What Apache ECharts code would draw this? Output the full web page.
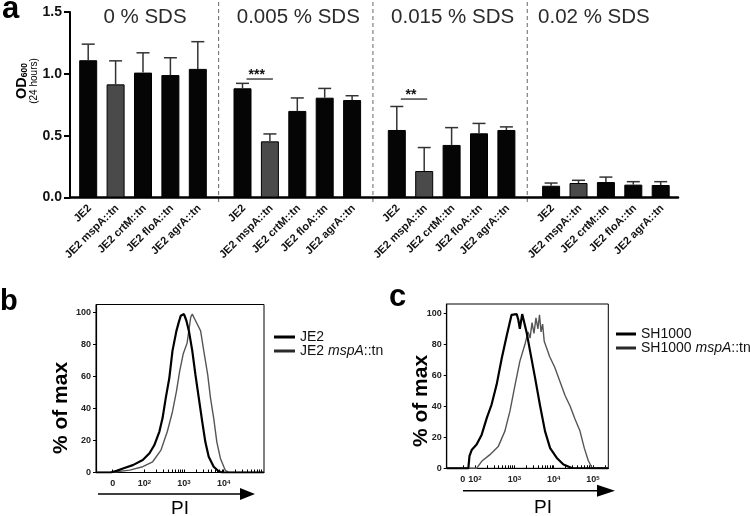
<!DOCTYPE html>
<html><head><meta charset="utf-8">
<script src="https://cdn.jsdelivr.net/npm/echarts@6/dist/echarts.min.js"></script>
<style>html,body{margin:0;padding:0;background:#fff}#c{width:750px;height:516px}</style>
</head><body><div id="c"></div>
<script>
// ---------- data: panel a ----------
const strains = ['JE2', 'JE2 mspA::tn', 'JE2 crtM::tn', 'JE2 floA::tn', 'JE2 agrA::tn'];
const conditions = ['0 % SDS', '0.005 % SDS', '0.015 % SDS', '0.02 % SDS'];
const od_0     = [1.11, 0.915, 1.01, 0.99, 1.04];
const sd_0     = [0.13, 0.19, 0.16, 0.14, 0.22];
const od_0005  = [0.883, 0.454, 0.70, 0.807, 0.788];
const sd_0005  = [0.04, 0.06, 0.105, 0.075, 0.035];
const od_0015  = [0.546, 0.214, 0.425, 0.519, 0.546];
const sd_0015  = [0.19, 0.19, 0.14, 0.08, 0.025];
const od_002   = [0.095, 0.117, 0.125, 0.104, 0.101];
const sd_002   = [0.022, 0.022, 0.04, 0.024, 0.027];
const odTicks  = [0, 0.5, 1.0, 1.5];
const sigGroups = [1, 2];
const sigLevels = [0.958, 0.796];
const sigLabels = ['***', '**'];

// ---------- data: panels b, c (x in log10 PI display units, y in % of max) ----------
const bJE2 = [[0.78,0],[1.15,0],[1.3,1],[1.46,2.5],[1.71,4.6],[1.96,7.8],[2.13,12],[2.25,17],[2.38,25.6],[2.46,34],[2.54,46.5],[2.63,59],[2.71,76],[2.81,88.5],[2.87,94],[2.92,98],[3.0,99],[3.06,95],[3.125,88.5],[3.21,76],[3.29,61],[3.375,46.5],[3.46,32],[3.54,19],[3.625,9.9],[3.75,3.6],[3.875,0.8],[3.96,0],[5.02,0]];
const bMsp = [[0.78,0],[1.15,0],[1.63,1.5],[1.96,3.6],[2.21,6.7],[2.42,14],[2.58,25.6],[2.71,38],[2.81,50.7],[2.89,63],[2.98,74],[3.08,81],[3.17,97],[3.21,99],[3.29,95],[3.42,88.5],[3.5,76],[3.6,61],[3.67,46.5],[3.75,34],[3.83,19],[3.92,8.8],[4.04,1.5],[4.13,0],[5.02,0]];
const cSH = [[1.28,0],[1.83,0],[1.86,8],[1.92,12],[2.04,15.3],[2.17,21.7],[2.3,32.5],[2.42,41],[2.55,54],[2.68,71],[2.81,86],[2.93,99],[3.06,99.5],[3.1,96],[3.14,90],[3.2,99.5],[3.23,99],[3.31,88],[3.42,73],[3.53,58],[3.65,41],[3.78,24],[3.91,13],[4.08,6.7],[4.25,2.4],[4.46,0.2],[5.39,0]];
const cMsp = [[1.28,0],[2.04,0],[2.17,4.5],[2.38,8.8],[2.59,14],[2.76,24],[2.89,37],[3.02,54],[3.14,69],[3.27,80],[3.35,88],[3.4,84],[3.45,94],[3.5,87],[3.55,97],[3.6,90],[3.64,99],[3.68,88],[3.72,93],[3.76,82],[3.9,72],[4.03,65],[4.16,56],[4.29,47],[4.42,40],[4.54,32],[4.67,24],[4.78,13],[4.88,5],[4.97,0.5],[5.0,0],[5.39,0]];
const bTickVals = [1.2, 2, 3, 4];
const bTickExp  = [null, 2, 3, 4];
const cTickVals = [1.69, 2, 3, 4, 5];
const cTickExp  = [null, 2, 3, 4, 5];
const pctTicks  = [0, 20, 40, 60, 80, 100];
const bNames = ['JE2', 'JE2 mspA::tn'];
const cNames = ['SH1000', 'SH1000 mspA::tn'];

// ---------- layout ----------
const FF = '"Liberation Sans", Arial, Helvetica, sans-serif';
const A = { left: 70, right: 678, top: 12, bottom: 197.5, slot: 27.4, firstCenter: 88.2, stride: 154.3, bar: 18 };
const titleShift = [2, 1, 1, -12];
const B = { left: 96, right: 264, top: 304.5, bottom: 472.5, xmin: 0.78, xmax: 5.02, ymax: 105 };
const C = { left: 446.7, right: 608.3, top: 304, bottom: 468.3, xmin: 1.28, xmax: 5.39, ymax: 106 };

const odGroups = [od_0, od_0005, od_0015, od_002];
const sdGroups = [sd_0, sd_0005, sd_0015, sd_002];

function renderErr(params, api) {
  const x = api.value(0), v = api.value(1), e = api.value(2);
  const p0 = api.coord([x, v]), p1 = api.coord([x, v + e]);
  const cap = 6.5, st = { stroke: '#333', lineWidth: 1.5 };
  return { type: 'group', children: [
    { type: 'line', shape: { x1: p0[0], y1: p0[1], x2: p1[0], y2: p1[1] }, style: st },
    { type: 'line', shape: { x1: p1[0] - cap, y1: p1[1], x2: p1[0] + cap, y2: p1[1] }, style: st }
  ]};
}
function renderXLabel(params, api) {
  const i = api.value(0);
  const p = api.coord([i, 0]);
  return { type: 'text', x: p[0] + 1.5, y: p[1] + 9, rotation: Math.PI / 4,
    style: { text: strains[i], fontSize: 11, fontWeight: 'bold', fontFamily: FF, fill: '#111', align: 'right', verticalAlign: 'middle' } };
}
function makeSig(k) {
  return function (params, api) {
    const y = api.value(2);
    const p0 = api.coord([api.value(0), y]), p1 = api.coord([api.value(1), y]);
    const x1 = p0[0] + 4, x2 = p1[0] + 3;
    return { type: 'group', children: [
      { type: 'line', shape: { x1: x1, y1: p0[1], x2: x2, y2: p0[1] }, style: { stroke: '#444', lineWidth: 1.5 } },
      { type: 'text', x: (x1 + x2) / 2 - 3, y: p0[1] - 4, style: { text: sigLabels[k], fontSize: 14, fontWeight: 'bold', fontFamily: FF, fill: '#111', align: 'center', verticalAlign: 'middle' } }
    ]};
  };
}

const grids = [], xAxes = [], yAxes = [], series = [];
grids.push({ left: A.left, top: A.top, width: A.right - A.left, height: A.bottom - A.top });
xAxes.push({ gridIndex: 0, type: 'value', min: 0, max: 1, axisLine: { show: true, lineStyle: { color: '#000', width: 2.5 } }, axisTick: { show: false }, axisLabel: { show: false }, splitLine: { show: false } });
yAxes.push({ gridIndex: 0, type: 'value', min: 0, max: 1.5, interval: 0.5,
  axisLine: { show: true, lineStyle: { color: '#000', width: 2 } },
  axisTick: { show: true, length: 6, lineStyle: { color: '#000', width: 2 } },
  axisLabel: { margin: 8, color: '#111', fontSize: 14, fontWeight: 'bold', fontFamily: FF, formatter: v => odTicks.includes(v) ? v.toFixed(1) : '' },
  splitLine: { show: false } });

odGroups.forEach((od, g) => {
  const gi = g + 1;
  const left = A.firstCenter - A.slot / 2 + g * A.stride;
  grids.push({ left: left, top: A.top, width: 5 * A.slot, height: A.bottom - A.top });
  xAxes.push({ gridIndex: gi, type: 'category', data: strains, axisLine: { show: false }, axisTick: { show: false }, axisLabel: { show: false } });
  yAxes.push({ gridIndex: gi, type: 'value', min: 0, max: 1.5, show: false });
  series.push({ type: 'bar', name: conditions[g], xAxisIndex: gi, yAxisIndex: gi, barWidth: A.bar, silent: true,
    data: od.map((v, i) => ({ value: v, itemStyle: { color: i === 1 ? '#4a4a4a' : '#050505' } })),
    itemStyle: { borderColor: '#000', borderWidth: 1 } });
  series.push({ type: 'custom', xAxisIndex: gi, yAxisIndex: gi, renderItem: renderErr, silent: true, z: 3,
    encode: { x: 0, y: 1 }, data: od.map((v, i) => [i, v, sdGroups[g][i]]) });
  series.push({ type: 'custom', xAxisIndex: gi, yAxisIndex: gi, renderItem: renderXLabel, silent: true, z: 3, clip: false,
    encode: { x: 0, y: 1 }, data: strains.map((s, i) => [i, 0]) });
});
sigGroups.forEach((g, k) => {
  series.push({ type: 'custom', xAxisIndex: g + 1, yAxisIndex: g + 1, renderItem: makeSig(k), silent: true, z: 4,
    encode: { x: 0, y: 2 }, data: [[0, 1, sigLevels[k]]] });
});

function logTicks(first, dmin, dmax, xmax) {
  const t = [first];
  for (let d = dmin; d <= dmax; d++) for (let k = 1; k <= 9; k++) { const v = d + Math.log10(k); if (v <= xmax) t.push(v); }
  return t;
}
const tickRich = {
  n: { fontSize: 9, fontWeight: 'bold', fontFamily: FF, color: '#222' },
  s: { fontSize: 6, fontWeight: 'bold', fontFamily: FF, color: '#222', verticalAlign: 'top' }
};
function flowAxes(gi, P, tickVals, tickExp, minor) {
  grids.push({ left: P.left, top: P.top, width: P.right - P.left, height: P.bottom - P.top, show: true, borderColor: '#000', borderWidth: 1 });
  xAxes.push({ gridIndex: gi, type: 'value', min: P.xmin, max: P.xmax,
    axisLine: { show: true, lineStyle: { color: '#000', width: 1.2 } }, splitLine: { show: false },
    axisTick: { show: true, inside: true, length: 3, customValues: minor, lineStyle: { color: '#000', width: 1 } },
    axisLabel: { customValues: tickVals, margin: 7, rich: tickRich,
      formatter: v => { let idx = 0, best = 1e9; tickVals.forEach((t, j) => { if (Math.abs(t - v) < best) { best = Math.abs(t - v); idx = j; } });
        const e = tickExp[idx]; return e === null ? '{n|0}' : '{n|10}{s|' + e + '}'; } } });
  yAxes.push({ gridIndex: gi, type: 'value', min: 0, max: P.ymax,
    axisLine: { show: true, lineStyle: { color: '#000', width: 1.2 } }, splitLine: { show: false },
    axisTick: { show: true, length: 3, customValues: pctTicks, lineStyle: { color: '#000' } },
    axisLabel: { customValues: pctTicks, margin: 5, fontSize: 9, fontWeight: 'bold', fontFamily: FF, color: '#222' } });
}
flowAxes(5, B, bTickVals, bTickExp, logTicks(1.2, 2, 4, B.xmax));
flowAxes(6, C, cTickVals, cTickExp, logTicks(1.69, 2, 5, C.xmax));
function flowSeries(gi, name, data, color, width, z) {
  series.push({ type: 'line', name: name, xAxisIndex: gi, yAxisIndex: gi, data: data, showSymbol: false, silent: true, z: z,
    lineStyle: { color: color, width: width }, itemStyle: { color: color } });
}
flowSeries(5, bNames[1], bMsp, '#555', 1.4, 2);
flowSeries(5, bNames[0], bJE2, '#000', 2.2, 3);
flowSeries(6, cNames[1], cMsp, '#555', 1.4, 2);
flowSeries(6, cNames[0], cSH, '#000', 2.2, 3);

const legRich = {
  n: { fontSize: 14, fontFamily: FF, color: '#111', lineHeight: 15 },
  i: { fontSize: 14, fontFamily: FF, color: '#111', fontStyle: 'italic', lineHeight: 15 }
};
const legFmt = name => name.indexOf('mspA') >= 0 ? '{n|' + name.split('mspA')[0] + '}{i|mspA}{n|' + name.split('mspA')[1] + '}' : '{n|' + name + '}';
function legend(names, left, top, w) {
  return { left: left, top: top, orient: 'vertical', icon: 'rect', itemWidth: w, itemHeight: 3, itemGap: 0, selectedMode: false,
    data: [{ name: names[0], itemStyle: { color: '#000' } }, { name: names[1], itemStyle: { color: '#2a2a2a' } }],
    formatter: legFmt, textStyle: { rich: legRich, fontSize: 14 } };
}

const graphic = [];
const txt = (x, y, text, size) => graphic.push({ type: 'text', x: x, y: y, style: { text: text, fontSize: size, fontWeight: 'bold', fontFamily: FF, fill: '#000', align: 'left', verticalAlign: 'middle' } });
txt(2, 9.3, 'a', 31);
txt(0, 301.5, 'b', 29);
txt(389, 297.5, 'c', 31);
graphic.push({ type: 'text', x: 27.5, y: 81, rotation: Math.PI / 2, style: {
  text: '{od|OD}{sub|600}\n{h|(24 hours)}', align: 'center', verticalAlign: 'middle',
  rich: { od: { fontSize: 14.5, fontWeight: 'bold', fontFamily: FF, color: '#000', lineHeight: 14 },
          sub: { fontSize: 8.5, fontWeight: 'bold', fontFamily: FF, color: '#000', verticalAlign: 'bottom', lineHeight: 14 },
          h: { fontSize: 10, fontFamily: FF, color: '#000', lineHeight: 11 } } } });
conditions.forEach((c, g) => {
  const center = A.firstCenter + 2 * A.slot + g * A.stride + titleShift[g];
  graphic.push({ type: 'text', x: center, y: 17.5, style: { text: c, fontSize: 20.5, fontFamily: FF, fill: '#2b2b2b', align: 'center', verticalAlign: 'middle' } });
});
for (let g = 0; g < 3; g++) {
  const x = (A.firstCenter + 4 * A.slot + g * A.stride + A.firstCenter + (g + 1) * A.stride) / 2 - 1.5;
  graphic.push({ type: 'line', shape: { x1: x, y1: 2, x2: x, y2: 205 }, style: { stroke: '#666', lineWidth: 1, lineDash: [4, 3] } });
}
[[B, 61, 408, 180, 509, 98, 241, 255, 494], [C, 421, 401, 543, 508, 463, 598, 615, 490.7]].forEach(r => {
  graphic.push({ type: 'text', x: r[1], y: r[2], rotation: Math.PI / 2, style: { text: '% of max', fontSize: 21, fontWeight: 'bold', fontFamily: FF, fill: '#000', align: 'center', verticalAlign: 'middle' } });
  graphic.push({ type: 'text', x: r[3], y: r[4], style: { text: 'PI', fontSize: 19, fontFamily: FF, fill: '#000', align: 'center', verticalAlign: 'middle' } });
  graphic.push({ type: 'line', shape: { x1: r[5], y1: r[8], x2: r[6], y2: r[8] }, style: { stroke: '#000', lineWidth: 1.5 } });
  graphic.push({ type: 'polygon', shape: { points: [[r[6] - 1, r[8] - 6], [r[7], r[8]], [r[6] - 1, r[8] + 6]] }, style: { fill: '#000' } });
});

const chart = echarts.init(document.getElementById('c'), null, { renderer: 'canvas' });
chart.setOption({
  animation: false,
  backgroundColor: '#fff',
  textStyle: { fontFamily: FF },
  grid: grids, xAxis: xAxes, yAxis: yAxes, series: series,
  legend: [legend(bNames, 269, 325, 21), legend(cNames, 611, 322, 20)],
  graphic: graphic
});
</script></body></html>
